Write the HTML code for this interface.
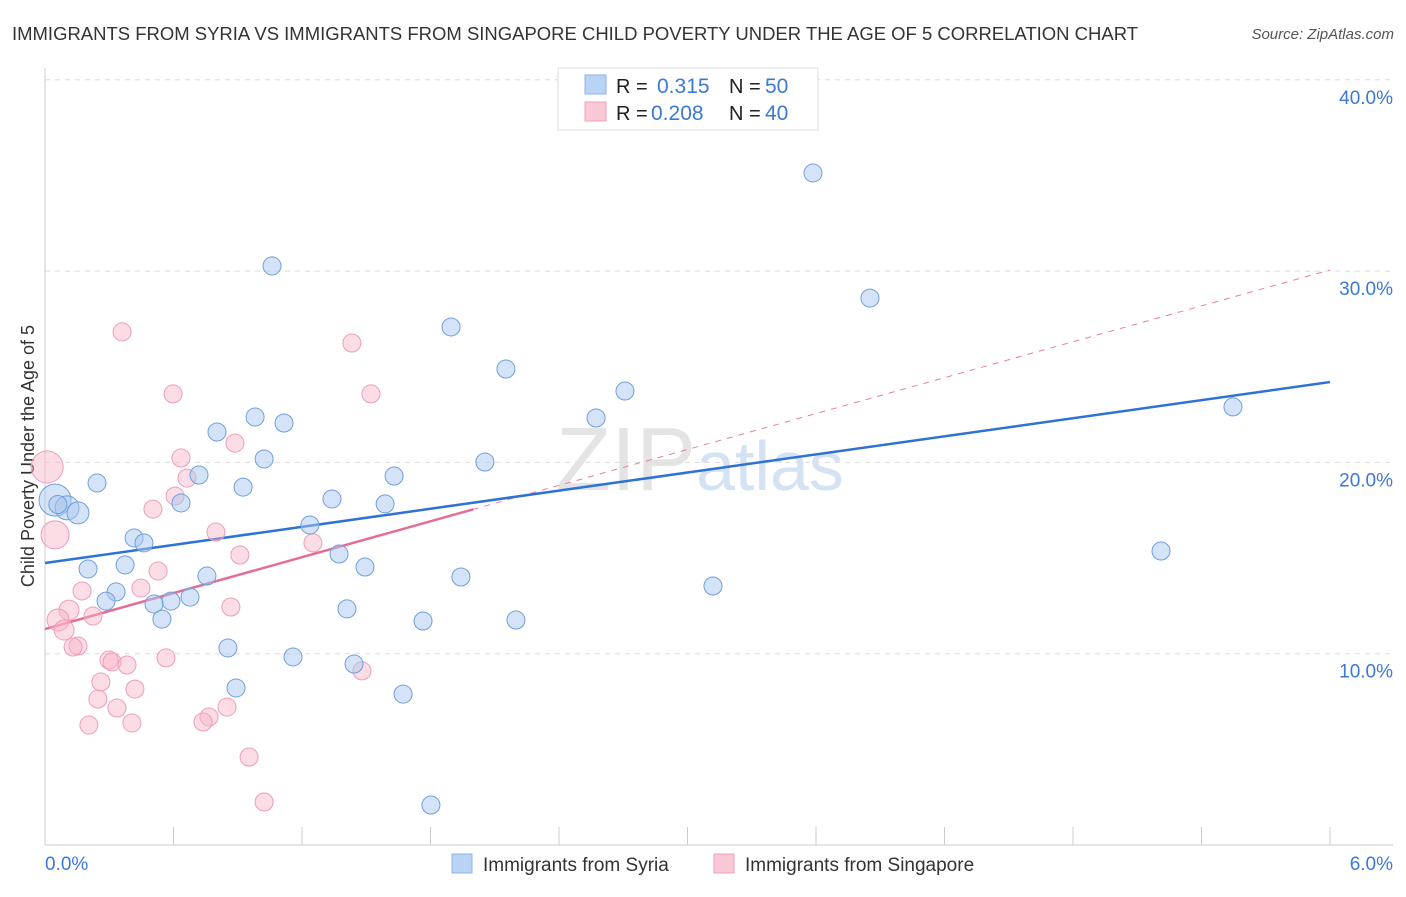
<!DOCTYPE html>
<html><head><meta charset="utf-8"><style>
body{margin:0;background:#fff;font-family:"Liberation Sans",sans-serif;}
svg text{font-family:"Liberation Sans",sans-serif;}
</style></head><body>
<svg id="chart" width="1406" height="892" xmlns="http://www.w3.org/2000/svg">
<text x="12" y="40" font-size="18" fill="#333" textLength="1126" lengthAdjust="spacingAndGlyphs">IMMIGRANTS FROM SYRIA VS IMMIGRANTS FROM SINGAPORE CHILD POVERTY UNDER THE AGE OF 5 CORRELATION CHART</text>
<text x="1394" y="39" font-size="15" fill="#555" font-style="italic" text-anchor="end">Source: ZipAtlas.com</text>
<text x="700" y="490" font-size="90" fill="#e4e4e4" text-anchor="middle" font-family="Liberation Serif">ZIP<tspan fill="#d4e2f4" font-family="Liberation Sans" font-size="70">atlas</tspan></text>
<text transform="translate(34,456) rotate(-90)" font-size="18" fill="#333" text-anchor="middle">Child Poverty Under the Age of 5</text>
<g id="grid"></g><g id="lines"></g><g id="pts"></g>
<g>
<rect x="558" y="68" width="260" height="62" fill="#fff" stroke="#ddd"/>
<rect x="585" y="75" width="21" height="19" fill="#b8d3f5" stroke="#8fb3e3"/>
<rect x="585" y="102" width="21" height="19" fill="#fbc9d6" stroke="#efa0b8"/>
<text x="616" y="93" font-size="20" fill="#222">R =</text>
<text x="657" y="93" font-size="21" fill="#3b78d8">0.315</text>
<text x="729" y="93" font-size="20" fill="#222">N =</text>
<text x="765" y="93" font-size="21" fill="#3b78d8">50</text>
<text x="616" y="120" font-size="20" fill="#222">R =</text>
<text x="651" y="120" font-size="21" fill="#3b78d8">0.208</text>
<text x="729" y="120" font-size="20" fill="#222">N =</text>
<text x="765" y="120" font-size="21" fill="#3b78d8">40</text>
</g>
<g>
<rect x="452" y="854" width="20" height="19" fill="#b8d3f5" stroke="#8fb3e3"/>
<text x="483" y="871" font-size="19" fill="#333">Immigrants from Syria</text>
<rect x="714" y="854" width="20" height="19" fill="#fbc9d6" stroke="#efa0b8"/>
<text x="745" y="871" font-size="19" fill="#333">Immigrants from Singapore</text>
</g>
</svg>
<script>
const xTicks=["0.0%","6.0%"];
const yTickVals=[10,20,30,40];
const syriaX=[3.586,1.060,3.852,1.896,2.152,2.708,2.573,5.547,0.981,1.116,0.803,1.023,2.054,0.719,1.630,0.243,0.925,1.340,1.588,0.635,0.047,0.103,0.154,1.237,0.416,0.462,1.373,5.211,0.374,0.201,1.494,0.756,1.942,3.119,0.332,0.285,0.677,0.588,0.509,1.410,0.546,1.765,2.199,0.854,1.158,1.443,0.892,1.672,1.802,0.06];
const syriaY=[35.13,30.27,28.59,27.08,24.88,23.73,22.32,22.90,22.37,22.06,21.59,20.18,20.02,19.34,19.29,18.92,18.71,18.09,17.83,17.88,18.03,17.62,17.36,16.73,16.05,15.79,15.21,15.37,14.64,14.43,14.53,14.06,14.01,13.54,13.23,12.75,12.96,12.75,12.60,12.34,11.81,11.71,11.76,10.30,9.83,9.46,8.21,7.89,2.09,17.8];
const singX=[0.360,1.433,0.598,1.522,0.887,0.635,0.01,0.663,0.607,0.504,0.047,0.798,1.251,0.910,0.528,0.448,0.173,0.112,0.868,0.224,0.061,0.089,0.154,0.131,0.299,0.313,0.565,0.383,1.480,0.261,0.420,0.247,0.336,0.850,0.766,0.738,0.205,0.406,0.953,1.023];
const singY=[26.82,26.24,23.58,23.58,21.01,20.23,19.76,19.18,18.24,17.56,16.21,16.36,15.79,15.16,14.32,13.43,13.28,12.28,12.44,11.97,11.76,11.24,10.40,10.35,9.67,9.57,9.78,9.41,9.10,8.52,8.15,7.63,7.16,7.21,6.69,6.43,6.27,6.38,4.60,2.25];
const syriaSize=[9,9,9,9,9,9,9,9,9,9,9,9,9,9,9,9,9,9,9,9,16,12,11,9,9,9,9,9,9,9,9,9,9,9,9,9,9,9,9,9,9,9,9,9,9,9,9,9,9,9];
const singSize=[9,9,9,9,9,9,16,9,9,9,14,9,9,9,9,9,9,10,9,9,11,10,9,9,9,9,9,9,9,9,9,9,9,9,9,9,9,9,9,9];
const blueFit=[14.74,24.20];
const pinkFit=[11.29,30.06];
const pinkSolidEnd=2.0;
const X=v=>45+v/6*1285, Y=v=>845-v*19.13;
const NS="http://www.w3.org/2000/svg";
function mk(tag,attrs,parent){const e=document.createElementNS(NS,tag);for(const k in attrs)e.setAttribute(k,attrs[k]);parent.appendChild(e);return e;}
const g=document.getElementById('grid');
yTickVals.forEach(v=>{
 const l=mk('line',{x1:45,x2:1393,y1:Y(v),y2:Y(v),stroke:'#ddd','stroke-dasharray':'5,5'},g);
 
 
 const t=mk('text',{x:1393,y:Y(v)+24,'font-size':19,fill:'#3b78d8','text-anchor':'end'},g);
 t.textContent=v.toFixed(1)+'%';
 
 
});
let a=mk('line',{x1:45,x2:45,y1:68,y2:845,stroke:'#ccc'},g);


a=mk('line',{x1:45,x2:1393,y1:845,y2:845,stroke:'#ccc'},g);


for(let i=1;i<=10;i++){const x=X(i*0.6);const t=mk('line',{x1:x,x2:x,y1:827,y2:845,stroke:'#ccc'},g);
 
 }
xTicks.forEach((s,i)=>{const t=mk('text',{x:i?1393:45,y:870,'font-size':19,fill:'#3b78d8','text-anchor':i?'end':'start'},g);
 t.textContent=s;
 
 });
const L=document.getElementById('lines');
let l=mk('line',{x1:X(0),y1:Y(pinkFit[0]),x2:X(6),y2:Y(pinkFit[1]),stroke:'#e87fa0','stroke-dasharray':'6,6','stroke-width':1},L);


const pe=pinkFit[0]+(pinkFit[1]-pinkFit[0])*pinkSolidEnd/6;
l=mk('line',{x1:X(0),y1:Y(pinkFit[0]),x2:X(pinkSolidEnd),y2:Y(pe),stroke:'#e56d94','stroke-width':2.5},L);


l=mk('line',{x1:X(0),y1:Y(blueFit[0]),x2:X(6),y2:Y(blueFit[1]),stroke:'#2f72d6','stroke-width':2.5},L);


const P=document.getElementById('pts');
singX.forEach((v,i)=>{const c=mk('circle',{cx:X(v),cy:Y(singY[i]),r:singSize[i],fill:'rgba(248,180,200,0.45)',stroke:'#ee9db6','stroke-width':1},P);
 
 });
syriaX.forEach((v,i)=>{const c=mk('circle',{cx:X(v),cy:Y(syriaY[i]),r:syriaSize[i],fill:'rgba(170,200,240,0.5)',stroke:'#6f9fdc','stroke-width':1},P);
 
 });
</script>
</body></html>
